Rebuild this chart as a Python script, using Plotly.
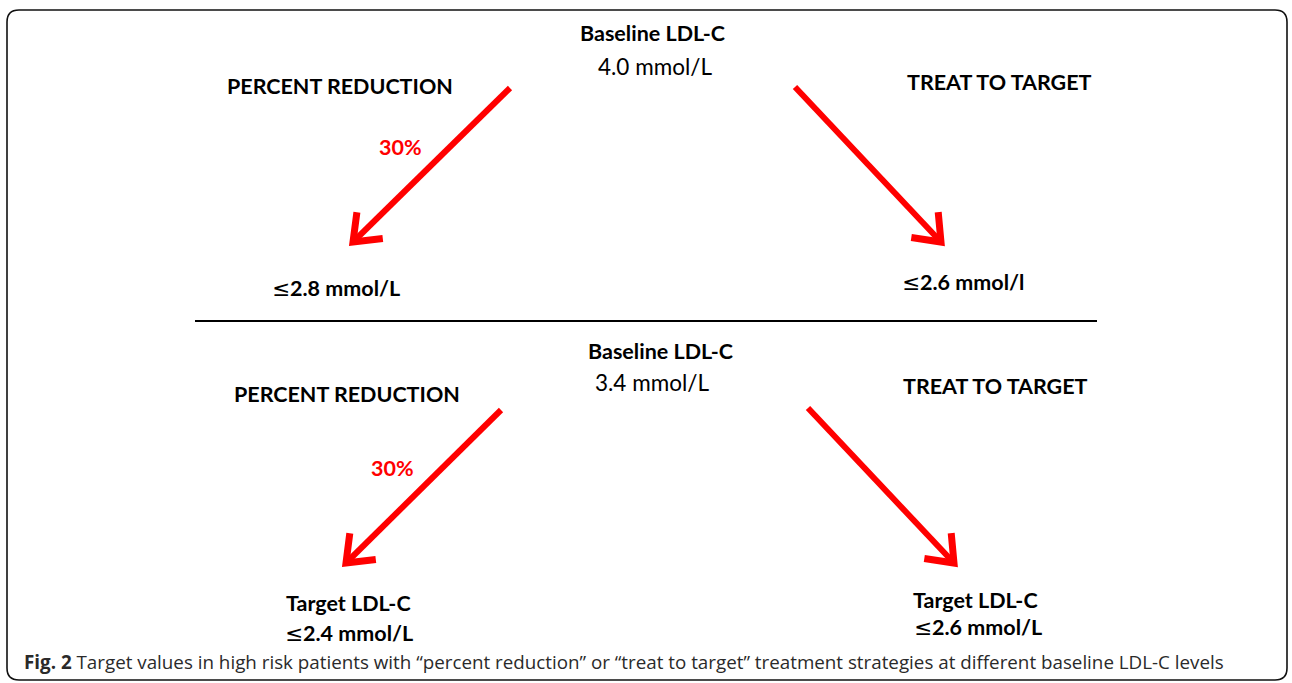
import math
import plotly.graph_objects as go

# ---- content ----
baseline_labels = ["Baseline LDL-C", "Baseline LDL-C"]
baseline_values = ["4.0 mmol/L", "3.4 mmol/L"]
strategy_labels = ["PERCENT REDUCTION", "TREAT TO TARGET"]
reduction_labels = ["30%", "30%"]
top_targets = ["2.8 mmol/L", "2.6 mmol/l"]
bottom_target_titles = ["Target LDL-C", "Target LDL-C"]
bottom_targets = ["2.4 mmol/L", "2.6 mmol/L"]
caption_bold = "Fig. 2"
caption_text = (" Target values in high risk patients with \u201cpercent reduction\u201d or "
                "\u201ctreat to target\u201d treatment strategies at different baseline LDL-C levels")

W, H = 1292, 683
FONT = "Lato"
RED = "#ff0000"
LE = '<span style="font-family:DejaVu Sans;font-weight:normal">≤</span>'

fig = go.Figure()
fig.add_trace(go.Scatter(x=[0, W], y=[0, H], mode="markers",
                         marker=dict(opacity=0), hoverinfo="skip", showlegend=False))

shapes = []
# rounded border
r = 12
x0, y0, x1, y1 = 7, 10, 1287, 680
path = (f"M {x0+r},{y0} L {x1-r},{y0} Q {x1},{y0} {x1},{y0+r} "
        f"L {x1},{y1-r} Q {x1},{y1} {x1-r},{y1} L {x0+r},{y1} "
        f"Q {x0},{y1} {x0},{y1-r} L {x0},{y0+r} Q {x0},{y0} {x0+r},{y0} Z")
shapes.append(dict(type="path", path=path, line=dict(color="#111", width=1.6),
                   xref="x", yref="y"))
# separator
shapes.append(dict(type="line", x0=195, x1=1097, y0=321, y1=321,
                   line=dict(color="black", width=2), xref="x", yref="y"))

# arrows
arrows = [(510, 88, 353, 242), (795, 87, 941, 242),
          (501, 410, 346, 563), (808, 408, 954, 563)]
for ax0, ay0, ax1, ay1 in arrows:
    shapes.append(dict(type="line", x0=ax0, y0=ay0, x1=ax1, y1=ay1,
                       line=dict(color=RED, width=6), xref="x", yref="y"))
    ang = math.atan2(ay0 - ay1, ax0 - ax1)
    L = 30
    pts = []
    for d in (math.radians(38), -math.radians(38)):
        pts.append((ax1 + L * math.cos(ang + d), ay1 + L * math.sin(ang + d)))
    p = f"M {pts[0][0]:.1f},{pts[0][1]:.1f} L {ax1},{ay1} L {pts[1][0]:.1f},{pts[1][1]:.1f}"
    shapes.append(dict(type="path", path=p, line=dict(color=RED, width=7),
                       xref="x", yref="y"))

ann = []
def t(x, y, text, size=21.5, bold=True, color="#000", anchor="center"):
    ann.append(dict(x=x, y=y, xref="x", yref="y", text=f"<b>{text}</b>" if bold else text,
                    showarrow=False, xanchor=anchor, yanchor="middle",
                    font=dict(family=FONT, size=size, color=color)))

# top panel
t(652, 33, baseline_labels[0])
t(655, 66, baseline_values[0], size=22.5, bold=False)
t(340, 86, strategy_labels[0])
t(999, 82, strategy_labels[1])
t(400, 147, reduction_labels[0], color=RED)
t(336, 288, LE + top_targets[0])
t(963, 282, LE + top_targets[1])
# bottom panel
t(660, 351, baseline_labels[1])
t(652, 382, baseline_values[1], size=22.5, bold=False)
t(347, 394, strategy_labels[0])
t(995, 386, strategy_labels[1])
t(392, 468, reduction_labels[1], color=RED)
t(348, 603, bottom_target_titles[0])
t(349, 633, LE + bottom_targets[0])
t(975, 600, bottom_target_titles[1])
t(978, 627, LE + bottom_targets[1])

ann.append(dict(x=22, y=662, xref="x", yref="y", showarrow=False,
                xanchor="left", yanchor="middle",
                text=f"<b>{caption_bold}</b>{caption_text}",
                font=dict(family="Open Sans", size=18.8, color="#2a2a2a")))

fig.update_layout(
    width=W, height=H, margin=dict(l=0, r=0, t=0, b=0),
    paper_bgcolor="white", plot_bgcolor="white",
    xaxis=dict(range=[0, W], visible=False, fixedrange=True),
    yaxis=dict(range=[H, 0], visible=False, fixedrange=True),
    shapes=shapes, annotations=ann, showlegend=False,
)
fig.write_html("out.html", config={"displayModeBar": False},
               post_script="document.body.style.margin='0';document.body.style.overflow='hidden';")
